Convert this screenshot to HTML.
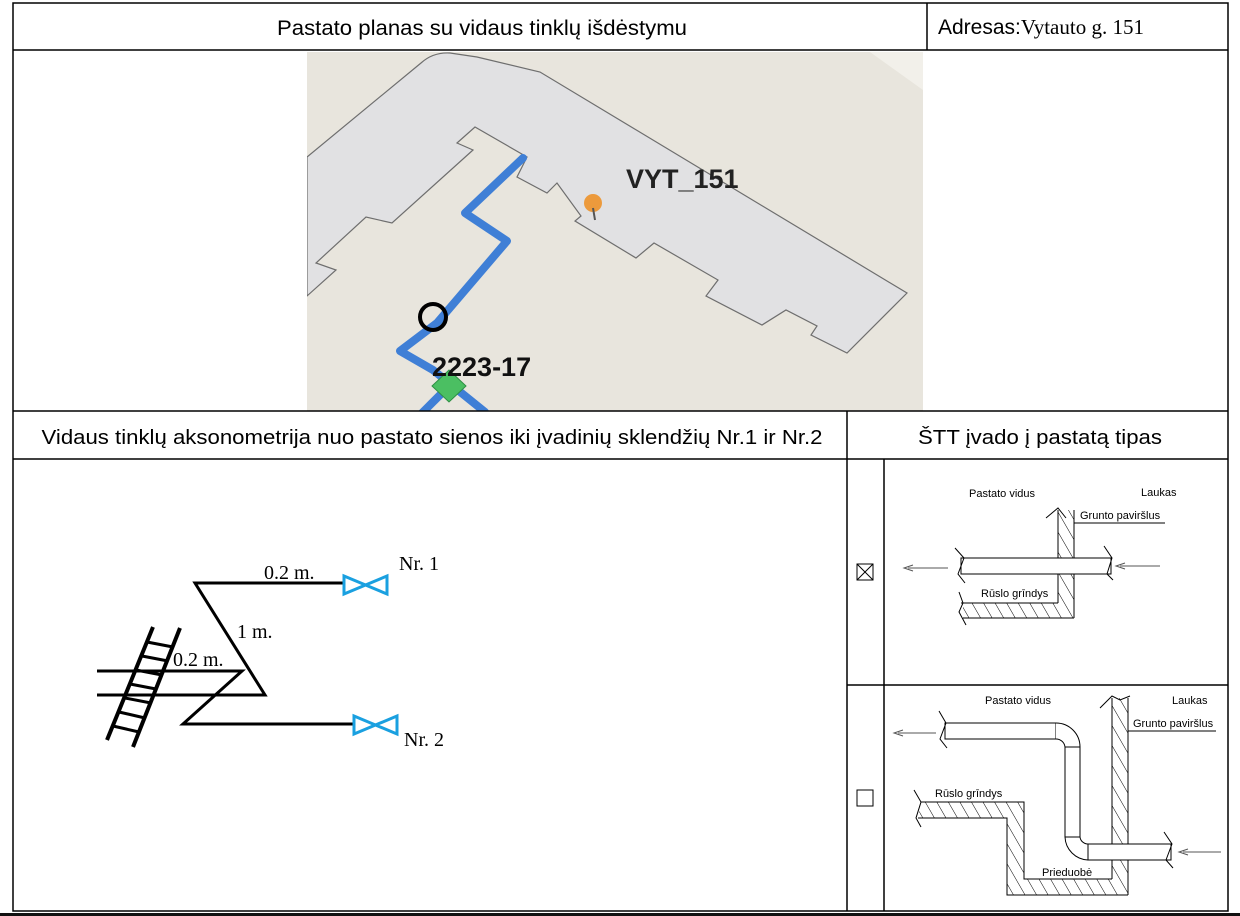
<!DOCTYPE html>
<html><head><meta charset="utf-8"><style>
html,body{margin:0;padding:0;background:#fff;}
svg{display:block;}
.a{font-family:"Liberation Sans",sans-serif;}
.s{font-family:"Liberation Serif",serif;}
</style></head><body>
<svg width="1240" height="916" viewBox="0 0 1240 916" xmlns="http://www.w3.org/2000/svg">
<defs>
<pattern id="h" patternUnits="userSpaceOnUse" width="10" height="10" patternTransform="rotate(-30)">
<line x1="0" y1="0" x2="0" y2="10" stroke="#000" stroke-width="1"/>
</pattern>
<clipPath id="mc"><rect x="307" y="52" width="616" height="359"/></clipPath>
</defs>
<rect x="0" y="913" width="1240" height="3" fill="#111"/>
<!-- map -->
<g clip-path="url(#mc)">
<rect x="307" y="52" width="616" height="359" fill="#e8e5dd"/>
<polygon points="870,52 923,52 923,90" fill="#f2f0ea"/>
<path d="M307,157 L421,63 Q433,52 450,53 L477,57 L540,72 L907,293 L847,353 L811,335 L817,326 L786,310 L762,325 L706,296 L718,280 L654,243 L636,258 L575,221 L581,216 L557,183 L547,193 L517,177 L527,157 L475,127 L457,143 L473,150 L392,223 L366,217 L316,263 L336,270 L307,296 Z" fill="#e1e1e3" stroke="#6e6e6e" stroke-width="1.2"/>
<polyline points="523,158 465,213 507,241 437,323 400,351 433,370 485,412" fill="none" stroke="#3f7fd6" stroke-width="8" stroke-linejoin="round" stroke-linecap="round"/>
<line x1="449" y1="386" x2="421" y2="414" stroke="#3f7fd6" stroke-width="8"/>
<circle cx="433" cy="317" r="13" fill="none" stroke="#000" stroke-width="4"/>
<polygon points="449,370 466,386 449,402 432,386" fill="#4bbf62" stroke="#2e8f44" stroke-width="1"/>
<circle cx="593" cy="203" r="9" fill="#ec9a3c"/>
<line x1="593" y1="208" x2="595" y2="220" stroke="#555" stroke-width="2"/>
<text x="626" y="188" class="a" font-size="27" font-weight="bold" fill="#222">VYT_151</text>
<text x="432" y="376" class="a" font-size="27" font-weight="bold" fill="#111">2223-17</text>
</g>
<!-- table -->
<g stroke="#000" stroke-width="1.5" fill="none">
<rect x="13" y="3" width="1215" height="908"/>
<line x1="13" y1="50" x2="1228" y2="50"/>
<line x1="927" y1="3" x2="927" y2="50"/>
<line x1="13" y1="411" x2="1228" y2="411"/>
<line x1="13" y1="459" x2="1228" y2="459"/>
<line x1="847" y1="411" x2="847" y2="911"/>
<line x1="884" y1="459" x2="884" y2="911"/>
<line x1="847" y1="685" x2="1228" y2="685"/>
</g>
<text x="482" y="35" class="a" font-size="21" text-anchor="middle" textLength="410" lengthAdjust="spacingAndGlyphs">Pastato planas su vidaus tinklų išdėstymu</text>
<text x="938" y="34" font-size="21"><tspan class="a">Adresas:</tspan><tspan class="s">Vytauto g. 151</tspan></text>
<text x="432" y="444" class="a" font-size="20" text-anchor="middle" textLength="781" lengthAdjust="spacingAndGlyphs">Vidaus tinklų aksonometrija nuo pastato sienos iki įvadinių sklendžių Nr.1 ir Nr.2</text>
<text x="1040" y="444" class="a" font-size="20" text-anchor="middle" textLength="244" lengthAdjust="spacingAndGlyphs">ŠTT įvado į pastatą tipas</text>
<!-- axonometry -->
<g stroke="#000" stroke-width="3" fill="none">
<polyline points="343,583 195,583 265,695 97,695"/>
<polyline points="97,671 242,671 183,724 353,724"/>
<line x1="107" y1="740" x2="153" y2="627" stroke-width="4"/>
<line x1="133" y1="747" x2="180" y2="628" stroke-width="4"/>
<g stroke-width="3">
<line x1="113" y1="726" x2="139" y2="732"/>
<line x1="119" y1="712" x2="145" y2="718"/>
<line x1="125" y1="698" x2="151" y2="703"/>
<line x1="130" y1="684" x2="156" y2="689"/>
<line x1="136" y1="670" x2="162" y2="675"/>
<line x1="142" y1="656" x2="168" y2="661"/>
<line x1="147" y1="642" x2="173" y2="647"/>
</g>
</g>
<g stroke="#1aa0e0" stroke-width="3" fill="none">
<polygon points="344,576 344,594 387,576 387,594"/>
<polygon points="354,716 354,734 397,716 397,734"/>
</g>
<g class="s" font-size="20">
<text x="264" y="579">0.2 m.</text>
<text x="399" y="570">Nr. 1</text>
<text x="237" y="638">1 m.</text>
<text x="173" y="666">0.2 m.</text>
<text x="404" y="746">Nr. 2</text>
</g>
<!-- checkboxes -->
<g stroke="#000" stroke-width="1" fill="none">
<rect x="857" y="564" width="16" height="16"/>
<line x1="857" y1="564" x2="873" y2="580"/><line x1="873" y1="564" x2="857" y2="580"/>
<rect x="857" y="790" width="16" height="16"/>
</g>
<!-- diagram 1 -->
<g class="a" font-size="11">
<text x="969" y="497">Pastato vidus</text>
<text x="1141" y="496">Laukas</text>
<text x="1080" y="519">Grunto paviršlus</text>
<text x="981" y="597">Rūslo grīndys</text>
</g>
<g stroke="#000" stroke-width="1" fill="none">
<path d="M1058,510 L1074,510 L1074,618 L963,618 L963,603 L1058,603 Z" fill="url(#h)" stroke="none"/>
<line x1="1058" y1="510" x2="1058" y2="603"/>
<line x1="1074" y1="510" x2="1074" y2="618"/>
<polyline points="1046,518 1058,508 1066,518"/>
<line x1="1074" y1="523" x2="1165" y2="523"/>
<line x1="961" y1="603" x2="1058" y2="603"/>
<line x1="963" y1="618" x2="1074" y2="618"/>
<polyline points="959,592 963,603 959,612 966,625"/>
<rect x="961" y="558" width="150" height="16" fill="#fff"/>
<polyline points="955,548 964,558 958,574 965,583"/>
<polyline points="1104,546 1112,558 1107,574 1113,580"/>
<line x1="908" y1="568" x2="948" y2="568" stroke="#555"/>
<polyline points="913,565 904,568 913,571" stroke="#555"/>
<line x1="1120" y1="566" x2="1160" y2="566" stroke="#555"/>
<polyline points="1125,563 1116,566 1125,569" stroke="#555"/>
</g>
<!-- diagram 2 -->
<g class="a" font-size="11">
<text x="985" y="704">Pastato vidus</text>
<text x="1172" y="704">Laukas</text>
<text x="1133" y="727">Grunto paviršlus</text>
<text x="935" y="797">Rūslo grīndys</text>
<text x="1042" y="876">Prieduobė</text>
</g>
<g stroke="#000" stroke-width="1" fill="none">
<path d="M1112,698 L1128,698 L1128,895 L1007,895 L1007,818 L918,818 L921,802 L1024,802 L1024,879 L1112,879 Z" fill="url(#h)" stroke="none"/>
<line x1="1112" y1="698" x2="1112" y2="879"/>
<line x1="1128" y1="698" x2="1128" y2="895"/>
<polyline points="1100,708 1112,696 1120,700 1130,696"/>
<line x1="1128" y1="731" x2="1216" y2="731"/>
<polyline points="921,802 1024,802 1024,879 1112,879"/>
<polyline points="918,818 1007,818 1007,895 1128,895"/>
<polyline points="914,790 921,802 916,818 921,827"/>
<rect x="945" y="723" width="111" height="16" fill="#fff"/>
<path d="M1056,723 A24,24 0 0 1 1080,747 L1065,747 A9,9 0 0 0 1056,739" fill="#fff"/>
<rect x="1065" y="747" width="15" height="90" fill="#fff"/>
<path d="M1065,837 A24,24 0 0 0 1088,860 L1088,844 A8,8 0 0 1 1080,837 Z" fill="#fff"/>
<rect x="1088" y="844" width="83" height="16" fill="#fff"/>
<polyline points="939,711 946,723 940,739 947,748"/>
<polyline points="1164,832 1172,844 1166,860 1173,868"/>
<line x1="898" y1="733" x2="936" y2="733" stroke="#555"/>
<polyline points="903,730 894,733 903,736" stroke="#555"/>
<line x1="1183" y1="852" x2="1221" y2="852" stroke="#555"/>
<polyline points="1188,849 1179,852 1188,855" stroke="#555"/>
</g>
</svg>
</body></html>
